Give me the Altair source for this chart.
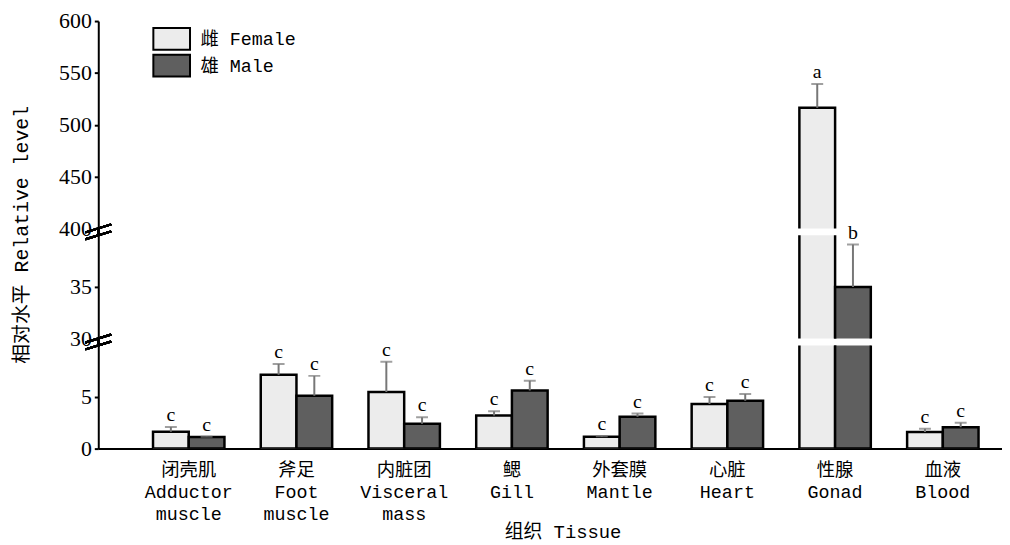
import altair as alt
import pandas as pd

# ---- data ----
tissues_cn = ["闭壳肌", "斧足", "内脏团", "鳃", "外套膜", "心脏", "性腺", "血液"]
tissues_en = ["Adductor\nmuscle", "Foot\nmuscle", "Visceral\nmass", "Gill",
              "Mantle", "Heart", "Gonad", "Blood"]
sexes = ["雌 Female", "雄 Male"]
female = [1.63, 7.15, 5.48, 3.20, 1.15, 4.33, 516.3, 1.60]
female_err = [0.47, 1.05, 2.95, 0.42, 0.05, 0.67, 23.0, 0.32]
male = [1.12, 5.13, 2.40, 5.64, 3.08, 4.65, 35.0, 2.08]
male_err = [0.03, 1.92, 0.65, 0.93, 0.32, 0.65, 4.1, 0.42]
female_sig = ["c", "c", "c", "c", "c", "c", "a", "c"]
male_sig = ["c", "c", "c", "c", "c", "c", "b", "c"]

labels = [c + "\n" + e for c, e in zip(tissues_cn, tissues_en)]
rows = []
for i, lab in enumerate(labels):
    rows.append(dict(tissue=lab, sex=sexes[0], value=female[i],
                     upper=female[i] + female_err[i], sig=female_sig[i]))
    rows.append(dict(tissue=lab, sex=sexes[1], value=male[i],
                     upper=male[i] + male_err[i], sig=male_sig[i]))
df = pd.DataFrame(rows)

MONO = "Liberation Mono, Noto Sans CJK SC"
SERIF = "Liberation Serif, Noto Sans CJK SC"
W = 911
GAP = 7

xscale = alt.Scale(paddingInner=0.337, paddingOuter=0.363, align=0.70)
offscale = alt.Scale(paddingInner=0, paddingOuter=0)
cscale = alt.Scale(domain=sexes, range=["#ececec", "#5f5f5f"])


def panel(lo, hi, h, ticks, show_x=False, legend=False, ytitle=False, decor=False):
    yscale = alt.Scale(domain=[lo, hi], nice=False, zero=False)
    yaxis_kw = dict(values=ticks, domainColor="black", domainWidth=2,
                    tickColor="black", tickWidth=2, tickSize=4,
                    labelFont=SERIF, labelFontSize=22, labelColor="black",
                    labelPadding=3, grid=False)
    if ytitle:
        yaxis = alt.Axis(title="相对水平 Relative level", titleFont=MONO,
                         titleFontSize=20, titleFontWeight="normal",
                         titleColor="black", titleX=-77, titleY=-1,
                         titleBaseline="middle", titleAlign="center",
                         **yaxis_kw)
    else:
        yaxis = alt.Axis(title=None, **yaxis_kw)
    if show_x:
        xaxis = alt.Axis(title="组织 Tissue", titleFont=MONO, titleFontSize=19,
                         titleFontWeight="normal", titleColor="black",
                         titlePadding=0, titleX=468, labelAngle=0,
                         labelExpr="split(datum.label, '\\n')",
                         labelFont=MONO, labelFontSize=18.5, labelColor="black",
                         labelLineHeight=22, labelPadding=12,
                         labelOverlap=False, labelLimit=300, ticks=False,
                         domainColor="black", domainWidth=2)
    else:
        xaxis = None
    base = alt.Chart(df).encode(
        x=alt.X("tissue:N", sort=labels, scale=xscale, axis=xaxis),
        xOffset=alt.XOffset("sex:N", sort=sexes, scale=offscale),
    )
    if legend:
        leg = alt.Legend(title=None, orient="none", legendX=62, legendY=6,
                         symbolType="M-1.68,-1L1.68,-1L1.68,1L-1.68,1Z",
                         symbolSize=484, symbolStrokeColor="black",
                         symbolStrokeWidth=2, symbolOpacity=1,
                         labelFont=MONO, labelFontSize=18.5, labelColor="black",
                         labelOffset=17, rowPadding=-4, padding=0)
    else:
        leg = None
    bars = base.mark_bar(clip=True, stroke="black", strokeWidth=2.5).encode(
        y=alt.Y("value:Q", scale=yscale, axis=yaxis),
        y2=alt.datum(0),
        color=alt.Color("sex:N", scale=cscale, legend=leg),
    )
    rules = base.mark_rule(clip=True, color="#777777", strokeWidth=2).encode(
        y=alt.Y("value:Q", scale=yscale, axis=yaxis), y2="upper:Q")
    caps = base.mark_tick(clip=True, color="#777777", thickness=2, size=12).encode(
        y=alt.Y("upper:Q", scale=yscale, axis=yaxis))
    txt = base.mark_text(font=SERIF, fontSize=20, color="black",
                         baseline="alphabetic", dy=-6).encode(
        y=alt.Y("upper:Q", scale=yscale, axis=yaxis), text="sig:N"
    ).transform_filter(f"datum.upper >= {lo} && datum.upper < {hi}")
    layers = [bars, rules, caps, txt]
    if decor:
        fill = alt.Chart(df).mark_rule(color="black", strokeWidth=2).encode(
            x=alt.value(0), y=alt.value(-GAP), y2=alt.value(0))
        s1 = alt.Chart(df).mark_rule(color="black", strokeWidth=2).encode(
            x=alt.value(-13), x2=alt.value(13), y=alt.value(-GAP + 4), y2=alt.value(-GAP - 4))
        s2 = alt.Chart(df).mark_rule(color="black", strokeWidth=2).encode(
            x=alt.value(-13), x2=alt.value(13), y=alt.value(4), y2=alt.value(-4))
        layers += [fill, s1, s2]
    return alt.layer(*layers).properties(width=W, height=h)


top = panel(400, 600, 209, [400, 450, 500, 550, 600], legend=True)
mid = panel(30, 40, 104, [30, 35], ytitle=True, decor=True)
bot = panel(0, 10, 104, [0, 5], show_x=True, decor=True)

chart = alt.vconcat(top, mid, bot, spacing=GAP, bounds="flush").resolve_scale(
    y="independent", x="independent", color="independent"
).properties(
    padding={"left": 3, "top": 0, "right": 0, "bottom": 0},
    background="white",
).configure_view(stroke=None)

chart.save("out.html", embed_options={"renderer": "svg", "actions": False})
